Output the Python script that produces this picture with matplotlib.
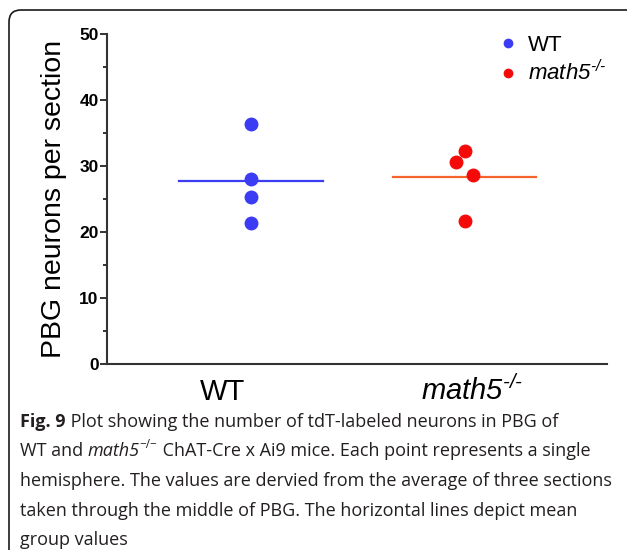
import matplotlib.pyplot as plt
import numpy as np
from matplotlib.lines import Line2D
from matplotlib.patches import FancyBboxPatch

# all math text italic, so "math5" stays italic including the digit
plt.rcParams['mathtext.fontset'] = 'custom'
plt.rcParams['mathtext.rm'] = 'Liberation Sans:italic'
plt.rcParams['mathtext.it'] = 'Liberation Sans:italic'
plt.rcParams['mathtext.bf'] = 'Liberation Sans:bold'

# data
groups = ['WT', r'$math5^{\text{-/-}}$']
wt_vals = [36.3, 28.0, 25.3, 21.3]
wt_jitter = [0.0, 0.0, 0.0, 0.0]
ko_vals = [32.2, 30.6, 28.6, 21.6]
ko_jitter = [0.0, -0.04, 0.04, 0.0]
yticks = [0, 10, 20, 30, 40, 50]

caption = [
    [('Fig. 9', 'bold'), (' Plot showing the number of tdT-labeled neurons in PBG of', 'normal')],
    [('WT and ', 'normal'), ('math5', 'italic'), ('\u2212/\u2212', 'sup'),
     (' ChAT-Cre x Ai9 mice. Each point represents a single', 'normal')],
    [('hemisphere. The values are dervied from the average of three sections', 'normal')],
    [('taken through the middle of PBG. The horizontal lines depict mean', 'normal')],
    [('group values', 'normal')],
]

blue = '#3c3cf5'
red = '#f50a0a'
orange = '#f5642a'

fig = plt.figure(figsize=(6.27, 5.5), dpi=100)
ax = fig.add_axes([107 / 627, 1 - 364.3 / 550, 500 / 627, 330.8 / 550])

ax.plot(1 + np.array(wt_jitter), wt_vals, 'o', color=blue, markersize=9, zorder=3)
ax.plot(2 + np.array(ko_jitter), ko_vals, 'o', color=red, markersize=9, zorder=3)
ax.plot([1 - 0.335, 1 + 0.335], [np.mean(wt_vals)] * 2, color=blue, lw=1.6)
ax.plot([2 - 0.335, 2 + 0.335], [np.mean(ko_vals)] * 2, color=orange, lw=1.6)

ax.set_xlim(0.326, 2.667)
ax.set_ylim(0, 50)
ax.set_yticks(yticks)
ax.set_yticks(np.arange(5, 50, 10), minor=True)
ax.set_xticks([])
for lab in ax.get_yticklabels():
    lab.set_fontweight('bold')
    lab.set_family('Liberation Sans')
ax.tick_params(axis='y', which='major', length=5, width=1.4, labelsize=12.5, pad=1, color='#333333')
ax.tick_params(axis='y', which='minor', length=3, width=1.4, color='#333333')
for s in ['top', 'right']:
    ax.spines[s].set_visible(False)
for s in ['left', 'bottom']:
    ax.spines[s].set_linewidth(1.5)
    ax.spines[s].set_color('#333333')

ax.set_ylabel('PBG neurons per section', fontsize=20.5, family='Liberation Sans', labelpad=9)

label_x = [0.866, 2.033]
for x, g in zip(label_x, groups):
    ax.text(x, -0.109, g, transform=ax.get_xaxis_transform(), ha='center', va='baseline',
            fontsize=21, family='Liberation Sans')

handles = [Line2D([], [], ls='', marker='o', color=blue, markersize=6),
           Line2D([], [], ls='', marker='o', color=red, markersize=6)]
ax.legend(handles, ['WT', r'$math5^{\text{-/-}}$'], loc='upper left',
          bbox_to_anchor=(0.736, 1.057), frameon=False, prop={'family': 'Liberation Sans', 'size': 16},
          handletextpad=0.3, labelspacing=0.2, handlelength=1.2)

# border round figure
box = FancyBboxPatch((0.09, -0.3), 7.0, 5.4 + 0.3, boxstyle='round,pad=0,rounding_size=0.12',
                     transform=fig.dpi_scale_trans, fill=False, lw=1.2, ec='#1a1a1a')
fig.patches.append(box)

# caption, piece by piece
fig.canvas.draw()
r = fig.canvas.get_renderer()
cap_font = 'Open Sans'
cap_size = 13
y0 = 1 - 427 / 550
dy = 29.5 / 550
for i, line in enumerate(caption):
    x = 20 / 627
    y = y0 - i * dy
    for txt, style in line:
        kw = dict(fontsize=cap_size, family=cap_font, color='#231f20', va='baseline')
        yy = y
        if style == 'bold':
            kw['fontweight'] = 'bold'
        elif style == 'italic':
            kw['fontstyle'] = 'italic'
        elif style == 'sup':
            kw['fontsize'] = cap_size * 0.65
            yy = y + 8 / 550
        t = fig.text(x, yy, txt, **kw)
        bb = t.get_window_extent(r)
        x += bb.width / fig.bbox.width

fig.savefig('out.png', dpi=100)
